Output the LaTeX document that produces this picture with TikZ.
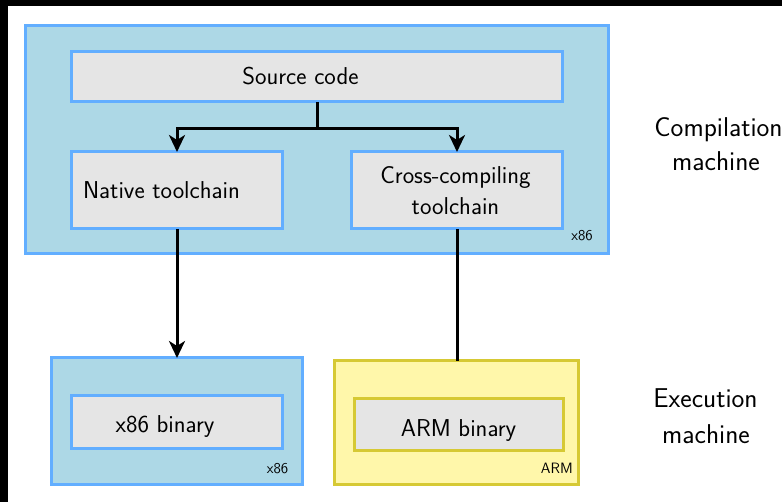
\documentclass[tikz,border=0pt]{standalone}
\usetikzlibrary{arrows.meta}
\definecolor{boxblue}{RGB}{173,216,230}
\definecolor{edgeblue}{RGB}{98,174,255}
\definecolor{boxgray}{RGB}{229,229,229}
\definecolor{boxyellow}{RGB}{255,247,170}
\definecolor{edgeyellow}{RGB}{214,201,52}
\tikzset{
  bluebox/.style={draw=edgeblue, fill=boxblue, line width=3pt},
  yellowbox/.style={draw=edgeyellow, fill=boxyellow, line width=3pt},
  graybox/.style={draw=edgeblue, fill=boxgray, line width=3pt},
  grayyellow/.style={draw=edgeyellow, fill=boxgray, line width=3pt},
  big/.style={font=\sffamily\fontsize{24.4}{29}\selectfont, inner sep=0pt, anchor=base},
  side/.style={font=\sffamily\fontsize{27.2}{32}\selectfont, inner sep=0pt, anchor=base},
  small/.style={font=\sffamily\fontsize{15}{18}\selectfont, inner sep=0pt, anchor=base east},
  conn/.style={line width=3pt, draw=black},
  arr/.style={conn, -{Stealth[length=17pt, width=16pt, inset=5pt]}},
}
\begin{document}
\begin{tikzpicture}[x=1pt,y=-1pt]
\useasboundingbox (0,0) rectangle (782,502);
\fill[white] (0,0) rectangle (782,502);
\fill[black] (0,0) rectangle (782,6);
\fill[black] (0,0) rectangle (7.5,502);
% compilation machine
\draw[bluebox] (25,26) rectangle (608,254);
\node[small] (lx86a) at (593,240.5) {x86};
\draw[graybox] (71,52) rectangle (562,102);
\coordinate (srcbot) at (317,102);
\draw[graybox] (71,152) rectangle (282,229);
\coordinate (nattop) at (177,152);
\coordinate (natbot) at (177,229);
\draw[graybox] (351,152) rectangle (562,229);
\coordinate (crstop) at (457,152);
\coordinate (crsbot) at (457,229);
\node[big] (src) at (300.5,85) {Source code};
\node[big] (nat) at (161.5,199) {Native toolchain};
\node[big] (crs1) at (455.5,184) {Cross-compiling};
\node[big] (crs2) at (455.5,215) {toolchain};
% execution machines
\draw[bluebox] (51,358) rectangle (302,484);
\coordinate (x86top) at (177,358);
\draw[graybox] (71,396) rectangle (282,449);
\node[big] (xbin) at (165,432) {x86 binary};
\node[small] (lx86b) at (288.5,474) {x86};
\draw[yellowbox] (334,361) rectangle (578,484);
\coordinate (armtop) at (457,361);
\draw[grayyellow] (354,399) rectangle (563,451);
\node[big] (abin) at (458.5,436) {ARM binary};
\node[small] (larm) at (573,474) {ARM};
% side labels
\node[side] (cm1) at (718.5,137) {Compilation};
\node[side] (cm2) at (716,171) {machine};
\node[side] (em1) at (705.5,408) {Execution};
\node[side] (em2) at (706,443) {machine};
% connectors
\coordinate (split) at (317,129);
\draw[arr] (srcbot) -- (split) -| (nattop);
\draw[arr] (split) -| (crstop);
\draw[arr] (natbot) -- (x86top);
\draw[conn] (crsbot) -- (armtop);
\end{tikzpicture}
\end{document}
